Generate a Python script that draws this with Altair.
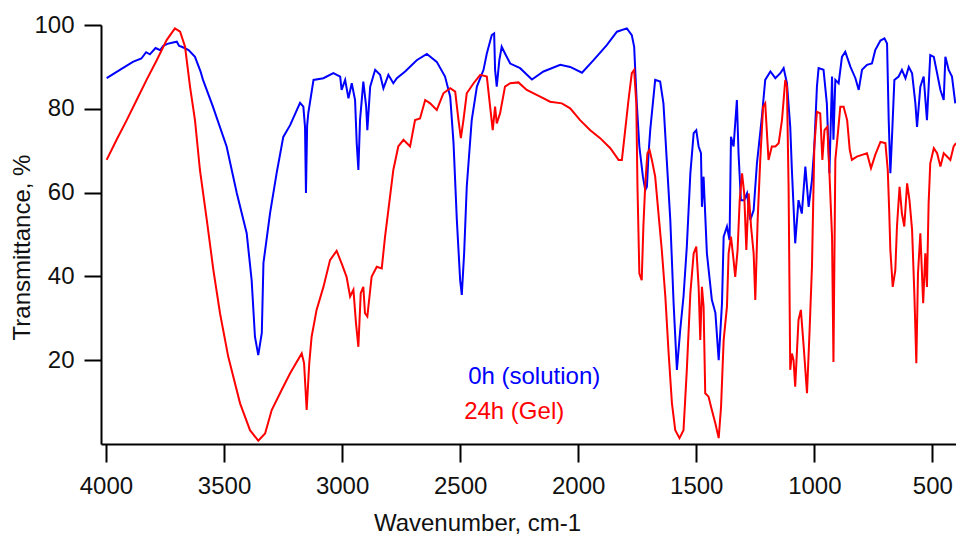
import altair as alt
import pandas as pd

# ---- data (wavenumber cm-1, transmittance %) ----
blue_wn = [3997, 3941, 3886, 3850, 3830, 3814, 3790, 3770, 3758, 3740, 3716, 3700, 3690, 3679,
           3650, 3623, 3600, 3589, 3547, 3489, 3446, 3404, 3383, 3369, 3355, 3340, 3333, 3305,
           3277, 3249, 3220, 3178, 3164, 3157, 3153, 3148, 3143, 3121, 3079, 3037, 3008, 3002,
           2987, 2973, 2959, 2945, 2938, 2931, 2924, 2910, 2898, 2893, 2881, 2860, 2839, 2825,
           2804, 2783, 2768, 2733, 2684, 2641, 2599, 2564, 2542, 2528, 2514, 2500, 2493, 2483,
           2472, 2451, 2429, 2401, 2387, 2366, 2356, 2352, 2345, 2334, 2324, 2310, 2288, 2246,
           2196, 2147, 2076, 2034, 1984, 1935, 1879, 1836, 1794, 1773, 1763, 1752, 1741, 1726,
           1716, 1709, 1702, 1695, 1674, 1653, 1639, 1625, 1610, 1596, 1582, 1568, 1554, 1540,
           1525, 1511, 1500, 1490, 1480, 1476, 1469, 1455, 1434, 1419, 1405, 1391, 1384, 1370,
           1359, 1353, 1342, 1328, 1321, 1311, 1297, 1285, 1271, 1257, 1243, 1222, 1208, 1186,
           1165, 1144, 1130, 1116, 1102, 1095, 1081, 1067, 1053, 1038, 1024, 1010, 1000, 989,
           982, 961, 947, 936, 925, 919, 911, 897, 883, 869, 847, 826, 812, 798, 777, 756, 742,
           720, 703, 692, 685, 678, 671, 661, 643, 629, 614, 600, 586, 572, 565, 551, 537, 523,
           509, 494, 480, 466, 452, 445, 431, 417, 403]
blue_t = [87.3, 89.3, 91.2, 92.0, 93.5, 93.0, 94.5, 94.0, 95.0, 95.5, 95.8, 96.0, 95.0, 94.8,
          94.0, 92.4, 89.0, 86.9, 80.5, 71.0, 59.9, 50.3, 39.1, 25.6, 21.2, 26.5, 43.2, 55.1,
          64.7, 73.3, 76.1, 81.4, 80.5, 75.7, 59.9, 76.0, 79.0, 86.9, 87.3, 88.5, 87.7, 84.5,
          86.9, 82.5, 86.1, 82.1, 71.8, 65.4, 77.3, 86.5, 80.5, 74.9, 85.3, 89.3, 88.1, 84.9,
          88.1, 86.1, 87.3, 88.9, 91.6, 93.1, 91.2, 87.7, 82.9, 71.8, 53.5, 39.1, 35.6, 45.6,
          61.4, 77.3, 85.3, 89.3, 93.2, 97.6, 98.0, 89.3, 85.3, 91.6, 94.8, 93.2, 90.8, 89.7,
          87.0, 88.9, 90.5, 90.0, 88.6, 91.6, 95.2, 98.4, 99.2, 97.6, 94.8, 81.3, 71.0, 63.8,
          60.6, 61.4, 69.4, 74.9, 86.9, 86.5, 81.3, 67.8, 53.5, 33.6, 17.7, 27.2, 35.2, 47.1,
          64.6, 74.2, 74.9, 71.0, 69.4, 56.6, 63.8, 45.5, 34.4, 31.3, 20.0, 33.6, 49.5, 51.9,
          48.7, 73.3, 71.0, 82.1, 69.4, 58.2, 58.2, 59.8, 53.5, 55.8, 67.0, 78.1, 86.9, 88.9,
          87.3, 88.5, 89.7, 86.1, 75.7, 65.4, 47.9, 58.2, 55.0, 66.2, 56.6, 63.0, 71.0, 85.3,
          89.7, 89.3, 81.3, 64.6, 87.7, 72.6, 86.9, 86.1, 92.4, 93.6, 90.0, 87.3, 84.5, 89.3,
          90.5, 90.8, 94.0, 96.3, 96.8, 95.6, 77.3, 64.6, 73.3, 86.9, 87.7, 89.3, 87.3, 90.0,
          88.5, 81.3, 75.7, 85.3, 87.7, 77.3, 92.8, 92.4, 88.5, 84.5, 82.1, 92.4, 89.3, 87.7,
          81.3]

red_wn = [3997, 3955, 3912, 3870, 3828, 3785, 3743, 3708, 3686, 3665, 3644, 3623, 3602, 3573,
          3545, 3517, 3482, 3432, 3390, 3355, 3326, 3298, 3256, 3220, 3171, 3161, 3150, 3139,
          3129, 3108, 3079, 3051, 3023, 3002, 2981, 2966, 2952, 2941, 2931, 2921, 2910, 2903,
          2893, 2875, 2853, 2832, 2818, 2804, 2783, 2762, 2740, 2712, 2691, 2670, 2648, 2627,
          2599, 2571, 2542, 2521, 2507, 2497, 2486, 2472, 2443, 2415, 2387, 2373, 2362, 2352,
          2345, 2331, 2310, 2288, 2253, 2218, 2161, 2119, 2069, 2034, 1992, 1949, 1907, 1864,
          1829, 1815, 1801, 1787, 1773, 1763, 1754, 1749, 1741, 1731, 1724, 1716, 1707, 1698,
          1688, 1674, 1660, 1646, 1631, 1617, 1603, 1589, 1571, 1554, 1540, 1525, 1511, 1500,
          1490, 1483, 1476, 1469, 1462, 1448, 1434, 1419, 1405, 1395, 1384, 1370, 1363, 1353,
          1342, 1335, 1325, 1316, 1306, 1297, 1288, 1278, 1268, 1257, 1250, 1240, 1229, 1217,
          1208, 1194, 1180, 1165, 1151, 1137, 1123, 1116, 1109, 1102, 1095, 1088, 1081, 1067,
          1057, 1045, 1031, 1020, 1010, 1000, 989, 975, 966, 957, 945, 936, 925, 919, 911, 899,
          890, 876, 861, 850, 841, 820, 798, 777, 760, 742, 720, 699, 689, 683, 678, 668, 657,
          650, 639, 629, 619, 607, 597, 586, 576, 568, 561, 551, 539, 530, 523, 516, 509, 494,
          480, 466, 452, 438, 424, 410, 400]
red_t = [67.8, 72.6, 77.3, 82.1, 86.9, 91.6, 96.4, 99.2, 98.4, 94.8, 85.3, 77.3, 65.4, 53.5,
         41.5, 31.2, 20.8, 9.7, 3.3, 0.8, 2.5, 8.1, 12.9, 16.9, 21.6, 19.3, 8.1, 19.3,
         25.6, 32.0, 37.5, 43.9, 46.1, 43.1, 39.9, 35.2, 36.8, 28.8, 23.2, 36.0, 37.5, 31.2,
         30.4, 39.9, 42.3, 41.9, 49.5, 55.8, 65.4, 71.0, 72.6, 71.0, 77.3, 77.7, 82.1, 81.3,
         79.7, 83.7, 84.9, 84.1, 77.3, 73.0, 77.3, 83.7, 86.1, 88.1, 87.7, 80.5, 74.9, 80.5,
         76.5, 78.9, 85.3, 86.1, 86.3, 84.5, 82.9, 81.7, 81.3, 80.1, 77.3, 74.9, 73.0, 70.6,
         67.8, 67.8, 74.9, 82.1, 88.5, 89.3, 81.3, 61.4, 40.7, 39.1, 51.9, 62.0, 69.4, 70.2,
         67.8, 63.8, 55.0, 46.3, 35.2, 21.6, 9.7, 3.3, 1.4, 3.3, 17.7, 36.0, 45.5, 47.1,
         37.5, 24.8, 37.5, 32.8, 12.1, 11.3, 8.1, 4.9, 1.4, 8.9, 24.8, 32.8, 45.5, 49.5,
         43.9, 39.9, 46.3, 58.2, 64.6, 59.8, 46.3, 59.8, 51.9, 45.5, 34.4, 53.5, 67.8, 80.5,
         81.3, 67.8, 71.0, 71.0, 71.8, 77.3, 86.9, 85.3, 61.4, 17.7, 21.6, 20.0, 13.7, 29.6,
         32.0, 23.2, 12.1, 27.2, 42.3, 71.0, 79.3, 78.9, 67.8, 74.9, 75.7, 64.6, 49.5, 19.6, 67.8, 74.9,
         80.5, 80.5, 77.3, 70.2, 67.8, 68.6, 69.0, 69.4, 65.8, 69.0, 72.1, 71.8, 65.4, 55.8, 46.3, 37.5, 41.5,
         51.9, 61.4, 55.0, 51.9, 62.2, 58.2, 51.1, 35.2, 19.3, 40.7, 50.3, 33.6, 45.5, 37.5, 57.4, 67.0, 70.6,
         69.4, 66.2, 69.4, 68.6, 67.8, 71.0, 71.8]

series_names = ["0h (solution)", "24h (Gel)"]
series_colors = ["#0000FF", "#FF0000"]
label_wn = [2466, 2483]
label_t = [16.0, 7.6]

x_ticks = [4000, 3500, 3000, 2500, 2000, 1500, 1000, 500]
y_ticks = [20, 40, 60, 80, 100]

# ---- build tables ----
spec = pd.concat([
    pd.DataFrame({"wn": blue_wn, "T": blue_t, "series": series_names[0]}),
    pd.DataFrame({"wn": red_wn, "T": red_t, "series": series_names[1]}),
], ignore_index=True)
labels = pd.DataFrame({"wn": label_wn, "T": label_t, "label": series_names, "color": series_colors})

FONT = "Liberation Sans"

x_scale = alt.Scale(domain=[400, 4021], reverse=True, nice=False, zero=False)
y_scale = alt.Scale(domain=[0, 100], nice=False, zero=True)

x_axis = alt.Axis(values=x_ticks, title="Wavenumber, cm-1", grid=False, format="d",
                  domainColor="black", domainWidth=2, tickColor="black", tickWidth=2, tickSize=18,
                  labelFont=FONT, labelFontSize=24, labelColor="#111111", labelPadding=12,
                  titleFont=FONT, titleFontSize=24, titleFontWeight="normal", titleColor="#111111",
                  titleX=376, titleY=86, titleAlign="center", titleBaseline="alphabetic")
y_axis = alt.Axis(values=y_ticks, title="Transmittance, %", grid=False,
                  domainColor="black", domainWidth=2, tickColor="black", tickWidth=2, tickSize=17,
                  labelFont=FONT, labelFontSize=24, labelColor="#111111", labelPadding=10,
                  titleFont=FONT, titleFontSize=24, titleFontWeight="normal", titleColor="#111111",
                  titleX=-79, titleY=222, titleAngle=270, titleAlign="center", titleBaseline="middle")

lines = alt.Chart(spec).mark_line(strokeWidth=2, clip=True, interpolate="linear").encode(
    x=alt.X("wn:Q", scale=x_scale, axis=x_axis),
    y=alt.Y("T:Q", scale=y_scale, axis=y_axis),
    color=alt.Color("series:N", scale=alt.Scale(domain=series_names, range=series_colors), legend=None),
    detail="series:N",
)

texts = alt.Chart(labels).mark_text(align="left", baseline="middle", font=FONT, fontSize=24).encode(
    x=alt.X("wn:Q", scale=x_scale),
    y=alt.Y("T:Q", scale=y_scale),
    text="label:N",
    color=alt.Color("color:N", scale=None),
)

chart = alt.layer(lines, texts).properties(
    width=855, height=419,
    padding={"left": 101, "top": 25, "right": 0, "bottom": 91},
    autosize=alt.AutoSizeParams(type="none"),
    background="white",
).configure_view(stroke="transparent")

chart.save("out.html", embed_options={"renderer": "svg", "actions": False})
